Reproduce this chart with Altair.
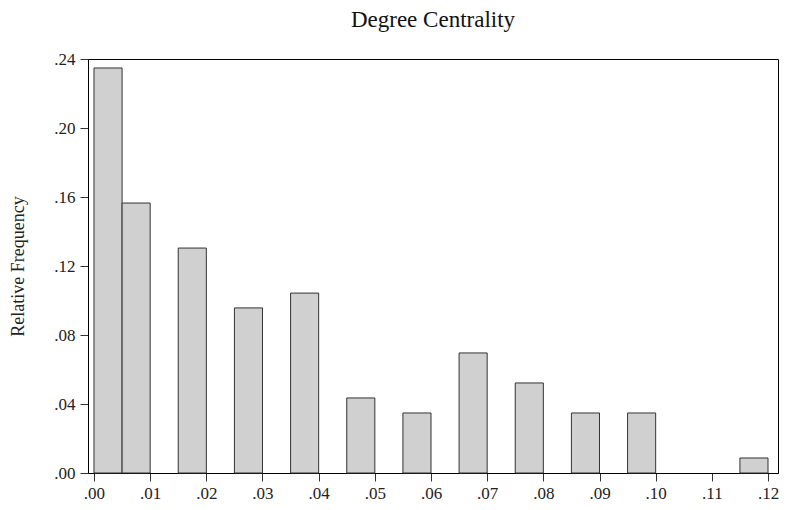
import altair as alt
import pandas as pd

bin_start = [0.000, 0.005, 0.015, 0.025, 0.035, 0.045, 0.055, 0.065, 0.075, 0.085, 0.095, 0.115]
bin_end = [0.005, 0.010, 0.020, 0.030, 0.040, 0.050, 0.060, 0.070, 0.080, 0.090, 0.100, 0.120]
rel_freq = [0.2348, 0.1565, 0.1304, 0.0957, 0.1043, 0.0435, 0.0348, 0.0696, 0.0522, 0.0348, 0.0348, 0.0087]

x_ticks = [0.00, 0.01, 0.02, 0.03, 0.04, 0.05, 0.06, 0.07, 0.08, 0.09, 0.10, 0.11, 0.12]
y_ticks = [0.00, 0.04, 0.08, 0.12, 0.16, 0.20, 0.24]

df = pd.DataFrame({"start": bin_start, "end": bin_end, "freq": rel_freq})

FONT = "Liberation Serif"

chart = alt.Chart(df).mark_rect(
    fill="#d0d0d0", stroke="#333333", strokeWidth=1
).encode(
    x=alt.X("start:Q",
            scale=alt.Scale(domain=[-0.001068, 0.12178], nice=False, zero=False),
            axis=alt.Axis(values=x_ticks, labelExpr="substring(format(datum.value, '.2f'), 1)",
                          title=None, grid=False, tickSize=8, labelPadding=4,
                          labelFontSize=17, labelColor="#222222", domainColor="#000000",
                          tickColor="#333333", labelFont=FONT, labelFlush=False)),
    x2="end:Q",
    y=alt.Y("freq:Q",
            scale=alt.Scale(domain=[0, 0.24], nice=False),
            axis=alt.Axis(values=y_ticks, labelExpr="substring(format(datum.value, '.2f'), 1)",
                          title="Relative Frequency", grid=False, tickSize=8, labelPadding=5,
                          labelFontSize=17, labelColor="#222222", domainColor="#000000",
                          tickColor="#333333", labelFont=FONT, titleFont=FONT,
                          titleFontSize=18, titleFontWeight="normal", titleColor="#222222",
                          titlePadding=26, labelFlush=False)),
    y2=alt.Y2(datum=0),
).properties(
    width=690,
    height=414,
    background="white",
    title=alt.TitleParams("Degree Centrality", font=FONT, fontSize=23, fontWeight="normal",
                          color="#111111", anchor="middle", offset=18),
    autosize=alt.AutoSizeParams(type="none"),
    padding={"left": 80, "top": 51, "right": 2, "bottom": 28},
).configure_view(
    stroke="#000000", strokeWidth=1
)

chart.save("out.html", embed_options={"renderer": "svg", "actions": False})
